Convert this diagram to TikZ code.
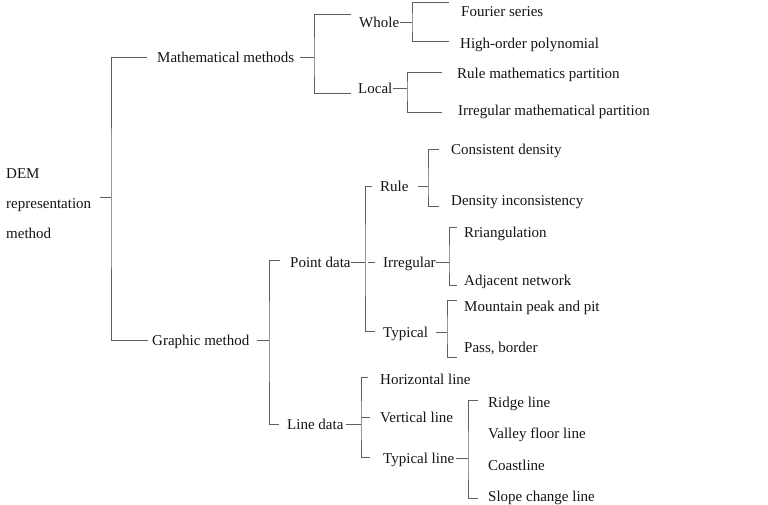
\documentclass[tikz,border=0pt]{standalone}
\usepackage{fontspec}
\setmainfont{Liberation Serif}
\usepackage{tikz}
\definecolor{brEdge}{HTML}{5E5E5E}
\definecolor{txtCol}{HTML}{141414}
\tikzset{
  lbl/.style={anchor=west, inner sep=0pt, text=txtCol, font=\fontsize{15}{18}\selectfont,
        text height=10pt, text depth=0pt},
  rootlbl/.style={anchor=base west, inner sep=0pt, text=txtCol, align=left,
        font=\fontsize{15}{18}\selectfont},
  br/.style={draw=brEdge, line width=1pt},
}
\begin{document}
\begin{tikzpicture}[x=1pt, y=-1pt]
  \useasboundingbox (0,0) rectangle (768,505);
  % labels
  \node[rootlbl] (dem) at (6,238) {DEM\\[12pt]representation\\[12pt]method};
  \node[lbl] (math) at (157,58) {Mathematical methods};
  \node[lbl] (graph) at (152,340) {Graphic method};
  \node[lbl] (whole) at (359,23) {Whole};
  \node[lbl] (local) at (358,89) {Local};
  \node[lbl] (fourier) at (461,12) {Fourier series};
  \node[lbl] (poly) at (460,44) {High-order polynomial};
  \node[lbl] (rmp) at (457,74) {Rule mathematics partition};
  \node[lbl] (imp) at (458,111) {Irregular mathematical partition};
  \node[lbl] (point) at (290,262) {Point data};
  \node[lbl] (line) at (287,424) {Line data};
  \node[lbl] (rule) at (380,187) {Rule};
  \node[lbl] (irr) at (383,262) {Irregular};
  \node[lbl] (typ) at (383,332) {Typical};
  \node[lbl] (cons) at (451,150) {Consistent density};
  \node[lbl] (incons) at (451,201) {Density inconsistency};
  \node[lbl] (tri) at (464,232) {Rriangulation};
  \node[lbl] (adj) at (464,280) {Adjacent network};
  \node[lbl] (peak) at (464,306) {Mountain peak and pit};
  \node[lbl] (pass) at (464,347) {Pass, border};
  \node[lbl] (hline) at (380,379) {Horizontal line};
  \node[lbl] (vline) at (380,417) {Vertical line};
  \node[lbl] (tline) at (383,458) {Typical line};
  \node[lbl] (ridge) at (488,402) {Ridge line};
  \node[lbl] (valley) at (488,433) {Valley floor line};
  \node[lbl] (coast) at (488,465) {Coastline};
  \node[lbl] (slope) at (488,496) {Slope change line};
  % bracket junctions and free ends
  \coordinate (rootJ) at (111,198);
  \coordinate (mathIn) at (147,58);   \coordinate (graphIn) at (148,340);
  \coordinate (mathJ) at (314,60);
  \coordinate (wholeIn) at (351,15);  \coordinate (localIn) at (351,94);
  \coordinate (wholeJ) at (412,23);
  \coordinate (fourierIn) at (449,3); \coordinate (polyIn) at (449,42);
  \coordinate (localJ) at (407,90);
  \coordinate (rmpIn) at (442,73);    \coordinate (impIn) at (442,113);
  \coordinate (graphJ) at (269,341);
  \coordinate (pointIn) at (280,260); \coordinate (lineIn) at (279,424);
  \coordinate (pointJ) at (365,262);
  \coordinate (ruleIn) at (372,187);  \coordinate (irrIn) at (375,262);
  \coordinate (typIn) at (375,331);
  \coordinate (ruleJ) at (428,187);
  \coordinate (consIn) at (439,150);  \coordinate (inconsIn) at (439,207);
  \coordinate (irrJ) at (449,262);
  \coordinate (triIn) at (457,227);   \coordinate (adjIn) at (457,285);
  \coordinate (typJ) at (447,332);
  \coordinate (peakIn) at (457,300);  \coordinate (passIn) at (457,357);
  \coordinate (lineJ) at (361,424);
  \coordinate (hlineIn) at (368,377); \coordinate (vlineIn) at (370,417);
  \coordinate (tlineIn) at (370,457);
  \coordinate (tlineJ) at (468,461);
  \coordinate (ridgeIn) at (478,400); \coordinate (slopeIn) at (478,498);
  % root
  \draw[br] ([xshift=9pt]dem.east |- rootJ) -- (rootJ);
  \draw[br] (mathIn) -| (rootJ) |- (graphIn);
  % mathematical methods
  \draw[br] ([xshift=6pt]math.east) -- (math.east -| mathJ);
  \draw[br] (wholeIn) -| (mathJ) |- (localIn);
  \draw[br] ([xshift=1pt]whole.east) -- (whole.east -| wholeJ);
  \draw[br] (fourierIn) -| (wholeJ) |- (polyIn);
  \draw[br] (local.east) -- (local.east -| localJ);
  \draw[br] (rmpIn) -| (localJ) |- (impIn);
  % graphic method
  \draw[br] ([xshift=8pt]graph.east) -- (graph.east -| graphJ);
  \draw[br] (pointIn) -| (graphJ) |- (lineIn);
  \draw[br] (point.east) -- (pointJ);
  \draw[br] (ruleIn) -| (pointJ) |- (typIn);
  \draw[br] ([xshift=3pt]pointJ) -- (irrIn);
  \draw[br] ([xshift=9pt]rule.east) -- (rule.east -| ruleJ);
  \draw[br] (consIn) -| (ruleJ) |- (inconsIn);
  \draw[br] (irr.east) -- (irr.east -| irrJ);
  \draw[br] (triIn) -| (irrJ) |- (adjIn);
  \draw[br] ([xshift=8pt]typ.east) -- (typ.east -| typJ);
  \draw[br] (peakIn) -| (typJ) |- (passIn);
  % line data
  \draw[br] ([xshift=2pt]line.east) -- (line.east -| lineJ);
  \draw[br] (hlineIn) -| (lineJ) |- (tlineIn);
  \draw[br] (vlineIn -| lineJ) -- (vlineIn);
  \draw[br] ([xshift=2pt]tline.east) -- (tline.east -| tlineJ);
  \draw[br] (ridgeIn) -| (tlineJ) |- (slopeIn);
\end{tikzpicture}
\end{document}
